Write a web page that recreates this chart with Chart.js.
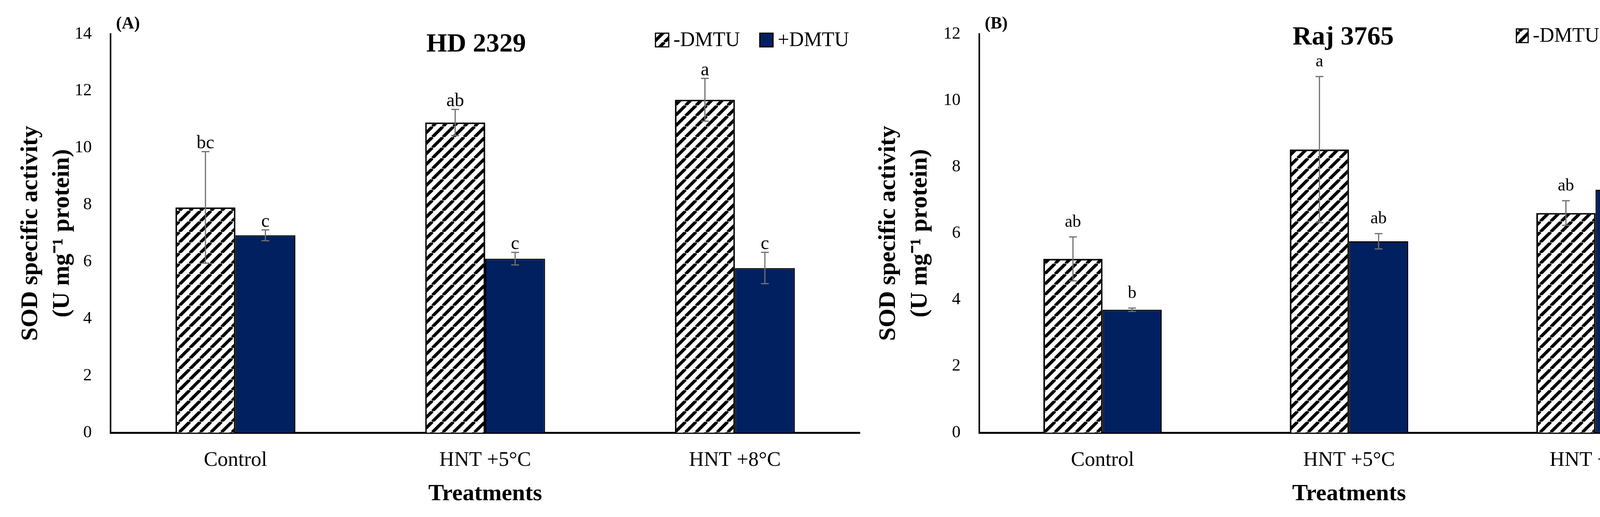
<!DOCTYPE html>
<html>
<head>
<meta charset="utf-8">
<script src="https://cdn.jsdelivr.net/npm/chart.js@4.4.0/dist/chart.umd.min.js"></script>
<style>
  body { margin: 0; background: #fff; }
  #wrap { position: relative; width: 4430px; height: 1324px; background: #fff; }
  .panel { position: absolute; top: 0; width: 2215px; height: 1324px; }
</style>
</head>
<body>
<div id="wrap">
  <div class="panel" style="left:0"><canvas id="chartA"></canvas></div>
  <div class="panel" style="left:2215px"><canvas id="chartB"></canvas></div>
</div>
<script>
const categories = ['Control', 'HNT +5°C', 'HNT +8°C'];
const seriesNames = ['-DMTU', '+DMTU'];

// (A) HD 2329
const hdMinus = [7.91, 10.89, 11.69];
const hdPlus = [6.93, 6.11, 5.78];
const hdMinusErr = [1.96, 0.46, 0.75];
const hdPlusErr = [0.19, 0.22, 0.55];
const hdMinusLetters = ['bc', 'ab', 'a'];
const hdPlusLetters = ['c', 'c', 'c'];
const hdTicks = [0, 2, 4, 6, 8, 10, 12, 14];

// (B) Raj 3765
const rajMinus = [5.23, 8.52, 6.61];
const rajPlus = [3.70, 5.76, 7.31];
const rajMinusErr = [0.66, 2.2, 0.37];
const rajPlusErr = [0.05, 0.23, 0.98];
const rajMinusLetters = ['ab', 'a', 'ab'];
const rajPlusLetters = ['b', 'ab', 'ab'];
const rajTicks = [0, 2, 4, 6, 8, 10, 12];

const FONT = "'Liberation Serif', 'Times New Roman', serif";
const NAVY = '#002060';

Chart.defaults.font.family = FONT;
Chart.defaults.color = '#000';

function hatch() {
  const s = 27;
  const c = document.createElement('canvas');
  c.width = s; c.height = s;
  const g = c.getContext('2d');
  g.fillStyle = '#fff';
  g.fillRect(0, 0, s, s);
  g.strokeStyle = '#000';
  g.lineWidth = 8;
  for (let k = -1; k <= 1; k++) {
    g.beginPath();
    g.moveTo(k * s, s);
    g.lineTo(k * s + s, 0);
    g.stroke();
  }
  return g.createPattern(c, 'repeat');
}

// error bars, letters, title, panel tag and legend
const extras = {
  id: 'extras',
  afterDatasetsDraw(chart, args, o) {
    const ctx = chart.ctx;
    const y = chart.scales.y;
    const area = chart.chartArea;
    ctx.save();
    chart.data.datasets.forEach((ds, i) => {
      const meta = chart.getDatasetMeta(i);
      meta.data.forEach((bar, j) => {
        const v = ds.data[j], e = ds.err[j];
        const yt = y.getPixelForValue(v + e);
        const yb = y.getPixelForValue(v - e);
        ctx.strokeStyle = '#6f6f6f';
        ctx.lineWidth = 3;
        ctx.beginPath();
        ctx.moveTo(bar.x, yt); ctx.lineTo(bar.x, yb);
        ctx.moveTo(bar.x - 10, yt); ctx.lineTo(bar.x + 10, yt);
        ctx.moveTo(bar.x - 10, yb); ctx.lineTo(bar.x + 10, yb);
        ctx.stroke();
        ctx.fillStyle = '#000';
        ctx.font = o.letterSize + 'px ' + FONT;
        ctx.textAlign = 'center';
        ctx.textBaseline = 'alphabetic';
        ctx.fillText(ds.letters[j], bar.x, yt - o.letterGap);
      });
    });

    ctx.fillStyle = '#000';
    ctx.textBaseline = 'middle';
    ctx.textAlign = 'left';
    ctx.font = 'bold 44px ' + FONT;
    ctx.fillText(o.tag, area.left + 14, 62);

    ctx.textAlign = 'center';
    ctx.font = 'bold 68px ' + FONT;
    ctx.fillText(o.title, (area.left + area.right) / 2 + o.titleDx, o.titleY);

    ctx.textAlign = 'left';
    ctx.font = '52px ' + FONT;
    chart.data.datasets.forEach((ds, i) => {
      const bx = area.right + o.legendX[i];
      const by = area.top + o.legendDy - 17;
      ctx.fillStyle = ds.backgroundColor;
      ctx.fillRect(bx, by, o.boxW, 35);
      ctx.strokeStyle = '#000';
      ctx.lineWidth = 3;
      ctx.strokeRect(bx, by, o.boxW, 35);
      ctx.fillStyle = '#000';
      ctx.fillText(ds.label, bx + o.boxW + 12, area.top + o.legendDy + 2);
    });
    ctx.restore();
  }
};

function makePanel(id, p) {
  const ticks = p.ticks;
  return new Chart(document.getElementById(id), {
    type: 'bar',
    data: {
      labels: categories,
      datasets: [
        { label: seriesNames[0], data: p.minus, err: p.minusErr, letters: p.minusLetters,
          backgroundColor: hatch(), borderColor: '#000', borderWidth: 4 },
        { label: seriesNames[1], data: p.plus, err: p.plusErr, letters: p.plusLetters,
          backgroundColor: NAVY, borderColor: '#000', borderWidth: 3 }
      ]
    },
    options: {
      responsive: true,
      maintainAspectRatio: false,
      devicePixelRatio: 1,
      animation: false,
      datasets: { bar: { categoryPercentage: 0.48, barPercentage: 1.0 } },
      layout: { padding: { left: p.padLeft, right: p.padRight, top: 87, bottom: 23 } },
      plugins: {
        legend: { display: false },
        tooltip: { enabled: false },
        extras: p.extras
      },
      scales: {
        x: {
          grid: { display: false, drawTicks: false },
          border: { display: true, color: '#000', width: 5 },
          ticks: { font: { size: 53 }, color: '#000', padding: 39 },
          title: { display: true, text: 'Treatments', color: '#000', padding: 0,
                   font: { size: 60, weight: 'bold' } },
          afterFit: s => { s.height = 193; }
        },
        y: {
          min: 0,
          max: ticks[ticks.length - 1],
          afterBuildTicks: s => { s.ticks = ticks.map(v => ({ value: v })); },
          grid: { display: false, drawTicks: false },
          border: { display: true, color: '#000', width: 4 },
          ticks: { font: { size: 44 }, color: '#000', padding: 48 },
          title: { display: true, text: ['SOD specific activity', '(U mg\u207B\u00B9 protein)'],
                   color: '#000', padding: 0,
                   font: { size: 62, weight: 'bold', lineHeight: 1.3 } },
          afterFit: s => { s.width = p.axisWidth; }
        }
      }
    },
    plugins: [extras]
  });
}

makePanel('chartA', {
  minus: hdMinus, plus: hdPlus, minusErr: hdMinusErr, plusErr: hdPlusErr,
  minusLetters: hdMinusLetters, plusLetters: hdPlusLetters, ticks: hdTicks,
  padLeft: 39, padRight: 14, axisWidth: 244,
  extras: { tag: '(A)', title: 'HD 2329', titleDx: -23, titleY: 114,
            letterSize: 48, letterGap: 8, legendX: [-523, -256], legendDy: 15, boxW: 34 }
});

makePanel('chartB', {
  minus: rajMinus, plus: rajPlus, minusErr: rajMinusErr, plusErr: rajPlusErr,
  minusLetters: rajMinusLetters, plusLetters: rajPlusLetters, ticks: rajTicks,
  padLeft: 20, padRight: 30, axisWidth: 272,
  extras: { tag: '(B)', title: 'Raj 3765', titleDx: -15, titleY: 96,
            letterSize: 44, letterGap: 26, legendX: [-518, -257], legendDy: 4, boxW: 30 }
});
</script>
</body>
</html>
